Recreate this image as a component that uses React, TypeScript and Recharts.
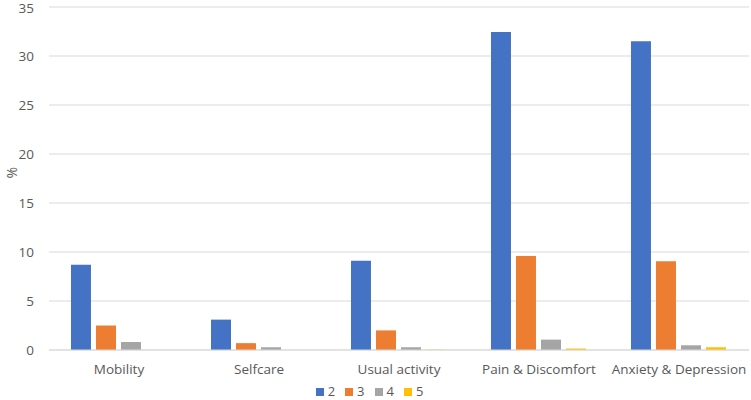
import { Bar, BarChart, CartesianGrid, Legend, XAxis, YAxis } from "recharts";

const categories = [
  "Mobility",
  "Selfcare",
  "Usual activity",
  "Pain & Discomfort",
  "Anxiety & Depression",
];
const level2 = [8.7, 3.1, 9.1, 32.45, 31.5];
const level3 = [2.5, 0.7, 2.0, 9.6, 9.05];
const level4 = [0.82, 0.28, 0.28, 1.06, 0.48];
const level5 = [0, 0, 0.03, 0.15, 0.28];
const yTicks = [0, 5, 10, 15, 20, 25, 30, 35];

const chartData = categories.map((name, i) => ({
  name,
  l2: level2[i],
  l3: level3[i],
  l4: level4[i],
  l5: level5[i],
}));

const font = "Open Sans, Lato, sans-serif";
const tickStyle = { fill: "#595959", fontSize: 13.5, fontFamily: font };

export default function App() {
  return (
    <div style={{ position: "absolute", left: 0, top: 0, width: 751, height: 400, background: "#fff" }}>
      <BarChart
        width={751}
        height={400}
        data={chartData}
        margin={{ top: 7, right: 2, left: 0, bottom: 0 }}
        barCategoryGap="15.7%"
        barGap={5}
      >
        <CartesianGrid vertical={false} stroke="#D9D9D9" />
        <XAxis
          dataKey="name"
          tick={tickStyle}
          axisLine={{ stroke: "#D9D9D9" }}
          tickLine={false}
          tickMargin={8}
          height={31}
        />
        <YAxis
          domain={[0, 35]}
          ticks={yTicks}
          tick={tickStyle}
          axisLine={false}
          tickLine={false}
          tickSize={0}
          tickMargin={15}
          width={49}
          label={{
            value: "%",
            angle: -90,
            position: "insideLeft",
            offset: 12,
            style: { fill: "#595959", fontSize: 14, fontFamily: font },
          }}
        />
        <Legend
          iconType="square"
          iconSize={8}
          formatter={(value) => (
            <span style={{ color: "#595959", fontSize: 13 }}>{value}</span>
          )}
          wrapperStyle={{ fontFamily: font, lineHeight: "18px" }}
        />
        <Bar dataKey="l2" name="2" fill="#4472C4" isAnimationActive={false} />
        <Bar dataKey="l3" name="3" fill="#ED7D31" isAnimationActive={false} />
        <Bar dataKey="l4" name="4" fill="#A5A5A5" isAnimationActive={false} />
        <Bar dataKey="l5" name="5" fill="#FFC000" isAnimationActive={false} />
      </BarChart>
    </div>
  );
}
